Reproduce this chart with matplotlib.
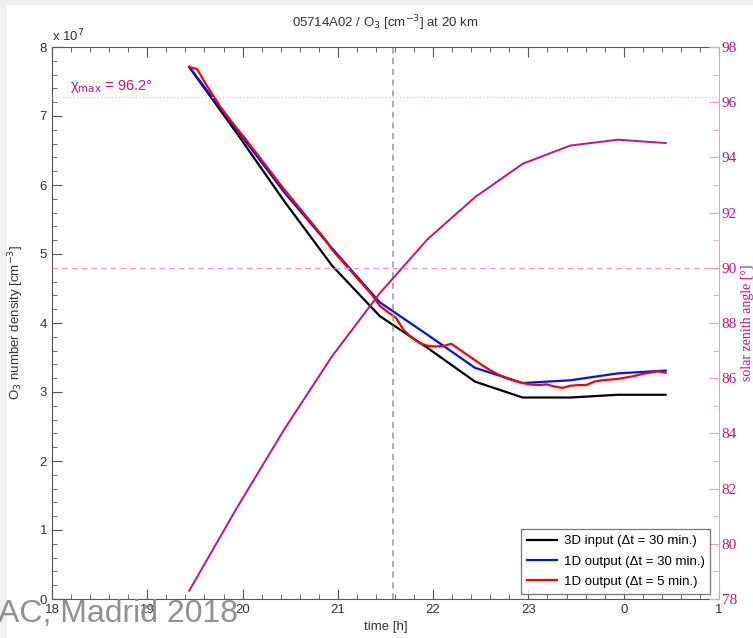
import matplotlib.pyplot as plt
import numpy as np
from matplotlib.patches import Rectangle
from matplotlib.ticker import MultipleLocator

# time in hours (24 = 0h, 25 = 1h), 30 min steps
t30 = [19.44, 19.94, 20.44, 20.94, 21.44, 21.94, 22.44, 22.94, 23.44, 23.94, 24.44]
o3_3d = [7.71, 6.75, 5.76, 4.83, 4.10, 3.64, 3.15, 2.92, 2.92, 2.96, 2.96]
o3_1d30 = [7.71, 6.80, 5.89, 5.08, 4.30, 3.83, 3.35, 3.13, 3.17, 3.27, 3.31]
sza = [78.3, 81.3, 84.16, 86.8, 89.08, 91.03, 92.56, 93.77, 94.43, 94.64, 94.52]

# 1D output with 5 min steps, starting at 19.44 h
t5_start = 19.44
o3_1d5 = [7.71, 7.68, 7.48, 7.30, 7.12, 6.97, 6.82, 6.68, 6.53, 6.38,
          6.23, 6.08, 5.93, 5.79, 5.65, 5.51, 5.37, 5.23, 5.06, 4.93,
          4.80, 4.67, 4.54, 4.41, 4.25, 4.16, 4.08, 3.90, 3.79, 3.71,
          3.67, 3.66, 3.665, 3.70, 3.62, 3.54, 3.46, 3.38, 3.31, 3.25,
          3.20, 3.16, 3.13, 3.11, 3.10, 3.11, 3.08, 3.06, 3.09, 3.10,
          3.10, 3.15, 3.17, 3.18, 3.19, 3.21, 3.23, 3.26, 3.28, 3.30, 3.28]
t5 = t5_start + np.arange(len(o3_1d5)) / 12.0

sza_max = 96.2
t_mark = 21.58
xtick_pos = [18, 19, 20, 21, 22, 23, 24, 25]
xtick_lab = ['18', '19', '20', '21', '22', '23', '0', '1']
ytick_pos = [0, 1, 2, 3, 4, 5, 6, 7, 8]
sza_ticks = [78, 80, 82, 84, 86, 88, 90, 92, 94, 96, 98]

plt.rcParams['font.family'] = ['Liberation Sans', 'DejaVu Sans']
pink = '#c8107e'
pink_light = '#ee9ad0'
serif = ['Liberation Serif', 'DejaVu Serif']
txt = '#333333'

W, H = 753, 638
fig = plt.figure(figsize=(W / 100, H / 100), dpi=100, facecolor='#f0f0f0')
fig.patches.append(Rectangle((7 / W, 0), 1, 1 - 5 / H, transform=fig.transFigure,
                             facecolor='white', edgecolor='none', zorder=-10))

ax = fig.add_axes([52 / W, 1 - 599 / H, (719 - 52) / W, (599 - 47) / H])
ax.set_xlim(18, 25)
ax.set_ylim(0, 8)
for s in ['left', 'bottom', 'top']:
    ax.spines[s].set_color('#555555')
ax.spines['right'].set_visible(False)

ax.plot(t30, o3_3d, color='black', lw=1.6, label='3D input (Δt = 30 min.)')
ax.plot(t30, o3_1d30, color='#0010ff', lw=1.6, label='1D output (Δt = 30 min.)')
ax.plot(t5, o3_1d5, color='#ff0000', lw=1.6, label='1D output (Δt = 5 min.)')
ax.axvline(t_mark, color='#999999', lw=1.1, ls=(0, (4, 3)))

ax.set_xticks(xtick_pos, xtick_lab, fontsize=9.5, color=txt)
ax.set_yticks(ytick_pos, [str(v) for v in ytick_pos], fontsize=9.5, color=txt)
ax.xaxis.set_minor_locator(MultipleLocator(0.2))
ax.yaxis.set_minor_locator(MultipleLocator(0.2))
ax.tick_params(which='both', direction='in', top=True, right=False, color='#555555')
ax.tick_params(which='major', length=7)
ax.tick_params(which='minor', length=3.5)

ax.set_xlabel('time [h]', fontsize=9.5, color=txt, labelpad=4)
ax.set_ylabel('O$_3$ number density [cm$^{-3}$]', fontsize=9.5, color=txt, labelpad=10)
ax.text(0.0, 1.004, 'x 10$^7$', transform=ax.transAxes, ha='left', va='bottom',
        fontsize=9.5, color=txt)
ax.set_title('05714A02 / O$_3$ [cm$^{-3}$] at 20 km', fontsize=9.5, color=txt, pad=14)

ax2 = ax.twinx()
ax2.set_ylim(78, 98)
for s in ['left', 'bottom', 'top']:
    ax2.spines[s].set_visible(False)
ax2.spines['right'].set_color(pink_light)
ax2.plot(t30, sza, color=pink, lw=1.4)
ax2.axhline(90, color=pink_light, lw=1.0, ls=(0, (4, 3)))
ax2.axhline(sza_max, color='#f6bfe0', lw=1.0, ls=(0, (1, 1.5)))
ax2.text(18.19, 96.45, 'χ$_{\\mathrm{max}}$ = 96.2°', color=pink, fontsize=10.5)
ax2.set_yticks(sza_ticks, [str(v) for v in sza_ticks], family=serif, fontsize=11,
               color=pink)
ax2.yaxis.set_minor_locator(MultipleLocator(1))
ax2.tick_params(which='both', direction='in', color=pink_light, pad=2)
ax2.tick_params(which='major', length=7)
ax2.tick_params(which='minor', length=4)
ax2.set_ylabel('solar zenith angle [°]', color=pink, family=serif, fontsize=10,
               labelpad=3)

h, l = ax.get_legend_handles_labels()
leg = ax2.legend(h, l, loc='lower right', bbox_to_anchor=(0.991, 0.005),
                 prop={'size': 9.5}, frameon=True, fancybox=False,
                 edgecolor='#555555', handlelength=2.3, borderpad=0.45,
                 labelspacing=0.6, handletextpad=0.5, borderaxespad=0.2)
leg.get_frame().set_linewidth(0.9)

fig.text(-0.002, 1 - 622 / H, 'AC, Madrid 2018', fontsize=23, color='#8a8a8a',
         ha='left', va='baseline', alpha=0.95)

fig.savefig('out.png', dpi=100, facecolor=fig.get_facecolor())
